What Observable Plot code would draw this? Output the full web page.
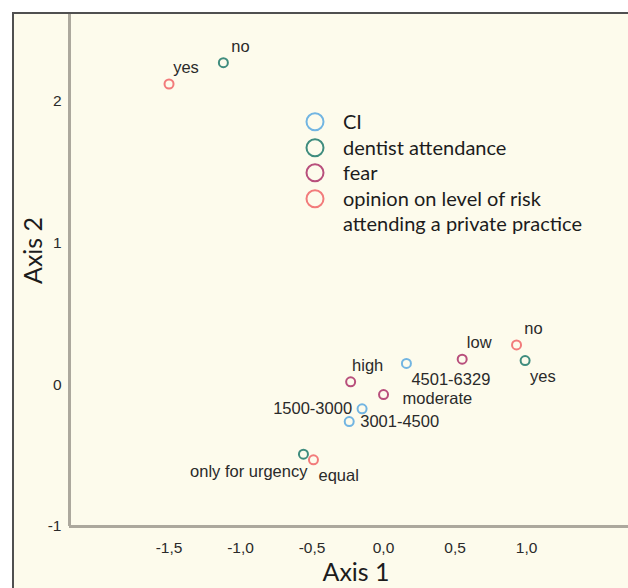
<!DOCTYPE html>
<html>
<head>
<meta charset="utf-8">
<script src="https://cdn.jsdelivr.net/npm/d3@7"></script>
<script src="https://cdn.jsdelivr.net/npm/@observablehq/plot@0.6"></script>
<style>
  html, body { margin: 0; padding: 0; background: #ffffff; }
  #wrap {
    position: absolute; left: 12px; top: 12px; width: 616px; height: 576px;
    border-left: 2px solid #505050; border-top: 2px solid #505050;
    background: #fdfbec; overflow: hidden;
  }
  #legend {
    position: absolute; left: 291px; top: 95px;
    font-family: Lato, "Open Sans", sans-serif; font-size: 20px; color: #1c1c1c;
  }
  .row { display: flex; align-items: flex-start; line-height: 25.5px; }
  .row svg { flex: none; width: 20px; height: 25.5px; margin-right: 18px; }
  .row span { white-space: pre-line; }
</style>
</head>
<body>
<div id="wrap"><div id="legend"></div></div>
<script>
// ---- data ----
const variables = ["CI", "dentist attendance", "fear", "opinion on level of risk attending a private practice"];
const legendLabels = ["CI", "dentist attendance", "fear", "opinion on level of risk\nattending a private practice"];
const colors = ["#72b5e2", "#3f8c7e", "#b84f7c", "#f27b7b"];

const pointVariable = ["CI", "CI", "CI", "dentist attendance", "dentist attendance", "dentist attendance", "fear", "fear", "fear", "opinion on level of risk attending a private practice", "opinion on level of risk attending a private practice", "opinion on level of risk attending a private practice"];
const pointLabels   = ["1500-3000", "3001-4500", "4501-6329", "no", "yes", "only for urgency", "high", "moderate", "low", "yes", "no", "equal"];
const axis1 = [-0.15, -0.24, 0.16, -1.12, 0.99, -0.56, -0.23, 0.00, 0.55, -1.50, 0.93, -0.49];
const axis2 = [-0.17, -0.26, 0.15, 2.27, 0.17, -0.49, 0.02, -0.07, 0.18, 2.12, 0.28, -0.53];

const xTicks = [-1.5, -1.0, -0.5, 0.0, 0.5, 1.0];
const xTickLabels = ["-1,5", "-1,0", "-0,5", "0,0", "0,5", "1,0"];
const yTicks = [-1, 0, 1, 2];
const yTickLabels = ["-1", "0", "1", "2"];

// ---- styling / layout config ----
const xDomain = [-2.196, 1.713];
const yDomain = [-1, 2.61];
const placements = {
  ne: {textAnchor: "middle", dx: 17, dy: -16},
  se: {textAnchor: "start", dx: 5, dy: 16},
  e:  {textAnchor: "start", dx: 11, dy: 0},
  e2: {textAnchor: "start", dx: 19, dy: 4},
  w:  {textAnchor: "end", dx: -10, dy: 0},
  sw: {textAnchor: "end", dx: 4, dy: 18}
};
const labelPlacement = ["w", "e", "se", "ne", "se", "sw", "ne", "e2", "ne", "ne", "ne", "se"];

const points = pointLabels.map((label, i) => ({
  variable: pointVariable[i], label, x: axis1[i], y: axis2[i], place: labelPlacement[i]
}));

const labelFont = "'Liberation Sans', Arial, sans-serif";
const titleFont = "Lato, 'Open Sans', sans-serif";

const textMarks = Object.entries(placements).map(([key, p]) =>
  Plot.text(points.filter(d => d.place === key), {
    x: "x", y: "y", text: "label", ...p,
    fontSize: 16.5, fontFamily: labelFont, fill: "#2a2a2a"
  })
);

const chart = Plot.plot({
  width: 614,
  height: 574,
  marginLeft: 55,
  marginRight: 0,
  marginTop: 0,
  marginBottom: 62,
  style: {background: "transparent", overflow: "visible"},
  x: {domain: xDomain, label: null},
  y: {domain: yDomain, label: null},
  color: {domain: variables, range: colors},
  marks: [
    Plot.axisX(xTicks, {tickSize: 0, tickPadding: 15, tickFormat: d => xTickLabels[xTicks.indexOf(d)], fontSize: 15.5, fontFamily: labelFont, fill: "#2a2a2a", label: null}),
    Plot.axisY(yTicks, {tickSize: 0, tickPadding: 8, tickFormat: d => yTickLabels[yTicks.indexOf(d)], fontSize: 15.5, fontFamily: labelFont, fill: "#2a2a2a", label: null}),
    Plot.ruleX([xDomain[0]], {stroke: "#aca89d", strokeWidth: 3}),
    Plot.ruleY([yDomain[0]], {stroke: "#aca89d", strokeWidth: 3}),
    Plot.dot(points, {x: "x", y: "y", r: 4.5, stroke: "variable", strokeWidth: 2, fill: "none"}),
    ...textMarks,
    Plot.text(["Axis 1"], {text: d => d, frameAnchor: "bottom", textAnchor: "middle", lineAnchor: "middle", dx: 7, dy: 46, fontSize: 25, fontFamily: titleFont, fill: "#1c1c1c"}),
    Plot.text(["Axis 2"], {text: d => d, frameAnchor: "left", textAnchor: "middle", lineAnchor: "middle", rotate: -90, dx: -36, dy: -20, fontSize: 25, fontFamily: titleFont, fill: "#1c1c1c"})
  ]
});
document.getElementById("wrap").prepend(chart);

// legend (inside the plot area)
const legend = d3.select("#legend");
variables.forEach((v, i) => {
  const row = legend.append("div").attr("class", "row");
  const svg = row.append("svg");
  svg.append("circle").attr("cx", 10).attr("cy", 12.75).attr("r", 8.5)
    .attr("fill", "none").attr("stroke", colors[i]).attr("stroke-width", 2);
  row.append("span").text(legendLabels[i]);
});
</script>
</body>
</html>
